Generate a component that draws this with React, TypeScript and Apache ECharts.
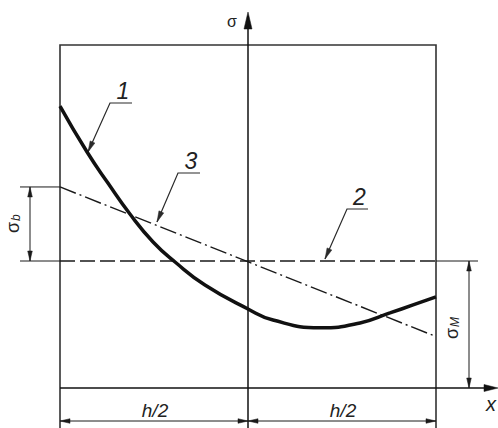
import { useEffect, useRef } from "react";
import * as echarts from "echarts";

// Curve 1: actual stress distribution (x in units of h/2, sigma in units of sigma_M)
const CURVE_X = [-1.0, -0.856, -0.745, -0.628, -0.505, -0.388, -0.229, 0, 0.133, 0.383, 0.596, 0.755, 0.878, 1.0];
const CURVE_SIGMA = [2.22, 1.858, 1.614, 1.37, 1.15, 0.992, 0.811, 0.622, 0.535, 0.474, 0.512, 0.591, 0.654, 0.717];
// Line 2: membrane stress sigma_M
const SIGMA_M = 1.0;
const MEAN_X = [-1, 1];
const MEAN_SIGMA = [SIGMA_M, SIGMA_M];
// Line 3: membrane + bending (linearised)
const SIGMA_B = 0.583;
const LINEAR_X = [-1, 1];
const LINEAR_SIGMA = [1.583, 0.405];
// Labels
const CURVE_LABELS = ["1", "2", "3"];
const HALF_LABEL = "h/2";
const AXIS_X_LABEL = "x";
const AXIS_Y_LABEL = "σ";

const FONT = "'Liberation Sans', Arial, sans-serif";
const INK = "#1a1a1a";

function arrowHead(tip: number[], from: number[], len: number, hw: number, color = INK) {
  const dx = tip[0] - from[0];
  const dy = tip[1] - from[1];
  const d = Math.hypot(dx, dy) || 1;
  const ux = dx / d, uy = dy / d;
  const bx = tip[0] - ux * len, by = tip[1] - uy * len;
  const px = -uy, py = ux;
  return {
    type: "polygon",
    silent: true,
    shape: { points: [tip, [bx + px * hw, by + py * hw], [bx - px * hw, by - py * hw]] },
    style: { fill: color, stroke: color, lineWidth: 0.5 },
  };
}

function seg(a: number[], b: number[], w = 1, color = INK) {
  return {
    type: "line",
    silent: true,
    shape: { x1: a[0], y1: a[1], x2: b[0], y2: b[1] },
    style: { stroke: color, lineWidth: w },
  };
}

function dimLine(a: number[], b: number[]) {
  return [seg(a, b, 1), arrowHead(a, b, 10, 2.3), arrowHead(b, a, 10, 2.3)];
}

function leader(label: string, under: number[], uEnd: number[], tip: number[]) {
  return [
    {
      type: "polyline",
      silent: true,
      shape: { points: [uEnd, under, tip] },
      style: { stroke: "#2a2a2a", lineWidth: 1.2, fill: null },
    },
    arrowHead(tip, under, 11, 2.6, "#2a2a2a"),
    {
      type: "text",
      silent: true,
      x: (under[0] + uEnd[0]) / 2 + 2,
      y: under[1] - 1,
      style: {
        text: label,
        fontFamily: FONT,
        fontStyle: "italic",
        fontSize: 23,
        fill: "#222",
        align: "center",
        verticalAlign: "bottom",
      },
    },
  ];
}

function subLabel(cx: number, cy: number, main: string, sub: string) {
  return {
    type: "group",
    x: cx,
    y: cy,
    rotation: Math.PI / 2,
    silent: true,
    children: [
      {
        type: "text",
        x: 0,
        y: 0,
        style: { text: main, fontFamily: FONT, fontSize: 18, fill: "#222", align: "right", verticalAlign: "middle" },
      },
      {
        type: "text",
        x: 1,
        y: 3,
        style: { text: sub, fontFamily: FONT, fontStyle: "italic", fontSize: 12, fill: "#222", align: "left", verticalAlign: "middle" },
      },
    ],
  };
}

export default function App() {
  const ref = useRef<HTMLDivElement>(null);

  useEffect(() => {
    if (!ref.current) return;
    const chart = echarts.init(ref.current, undefined, { renderer: "svg" });
    chart.setOption({
      animation: false,
      backgroundColor: "#ffffff",
      grid: { left: 0, right: 0, top: 0, bottom: 0, containLabel: false },
      xAxis: { type: "value", min: -248 / 188, max: 250 / 188, show: false },
      yAxis: { type: "value", min: -40 / 127, max: 388 / 127, show: false },
      series: [
        {
          name: "1",
          type: "line",
          data: CURVE_X.map((x, i) => [x, CURVE_SIGMA[i]]),
          smooth: 0.5,
          showSymbol: false,
          silent: true,
          lineStyle: { color: "#111", width: 3.5 },
          z: 5,
        },
        {
          name: "2",
          type: "line",
          data: MEAN_X.map((x, i) => [x, MEAN_SIGMA[i]]),
          showSymbol: false,
          silent: true,
          lineStyle: { color: INK, width: 1.5, type: [15, 5] },
          z: 3,
        },
        {
          name: "3",
          type: "line",
          data: LINEAR_X.map((x, i) => [x, LINEAR_SIGMA[i]]),
          showSymbol: false,
          silent: true,
          lineStyle: { color: INK, width: 1.4, type: [17, 4, 2, 4] },
          z: 3,
        },
      ],
    });

    const P = (x: number, y: number) => chart.convertToPixel({ gridIndex: 0 }, [x, y]) as number[];
    const L = P(-1, 0)[0];
    const R = P(1, 0)[0];
    const C = P(0, 0)[0];
    const Y0 = P(0, 0)[1];
    const YM = P(0, SIGMA_M)[1];
    const YB = P(0, SIGMA_M + SIGMA_B)[1];
    const TOP = 45;
    const BOT = 428;
    const DIM_Y = 421;

    const g: any[] = [];
    // frame
    g.push({
      type: "polyline",
      silent: true,
      shape: { points: [[L, BOT], [L, TOP], [R, TOP], [R, BOT]] },
      style: { stroke: "#333", lineWidth: 1.6, fill: null },
    });
    // sigma axis
    g.push(seg([C, BOT], [C, 20], 1.5, "#111"));
    g.push(arrowHead([C, 12], [C, 40], 17, 4, "#111"));
    // x axis
    g.push(seg([L, Y0], [490, Y0], 1.5, "#111"));
    g.push(arrowHead([498, Y0], [470, Y0], 14, 3.5, "#111"));
    // sigma_b dimension
    g.push(seg([20, YB], [L, YB], 1));
    g.push(seg([20, YM], [L, YM], 1));
    g.push(...dimLine([30, YB], [30, YM]));
    // sigma_M dimension
    g.push(seg([R, YM], [478, YM], 1));
    g.push(...dimLine([469, YM], [469, Y0]));
    // h/2 dimensions
    g.push(...dimLine([L, DIM_Y], [C, DIM_Y]));
    g.push(...dimLine([C, DIM_Y], [R, DIM_Y]));
    // leaders
    g.push(...leader(CURVE_LABELS[0], [110, 103], [132, 103], [88, 152]));
    g.push(...leader(CURVE_LABELS[2], [178, 173], [200, 173], [157, 222]));
    g.push(...leader(CURVE_LABELS[1], [347, 209], [368, 209], [325, 259]));
    // texts
    g.push({
      type: "text",
      silent: true,
      x: 232,
      y: 21,
      style: { text: AXIS_Y_LABEL, fontFamily: FONT, fontSize: 16, fill: "#222", align: "center", verticalAlign: "middle" },
    });
    g.push({
      type: "text",
      silent: true,
      x: 491,
      y: 404,
      style: { text: AXIS_X_LABEL, fontFamily: FONT, fontStyle: "italic", fontSize: 20, fill: "#222", align: "center", verticalAlign: "middle" },
    });
    g.push({
      type: "text",
      silent: true,
      x: (L + C) / 2 + 1,
      y: 410,
      style: { text: HALF_LABEL, fontFamily: FONT, fontStyle: "italic", fontSize: 19, fill: "#222", align: "center", verticalAlign: "middle" },
    });
    g.push({
      type: "text",
      silent: true,
      x: (C + R) / 2 + 1,
      y: 410,
      style: { text: HALF_LABEL, fontFamily: FONT, fontStyle: "italic", fontSize: 19, fill: "#222", align: "center", verticalAlign: "middle" },
    });
    g.push(subLabel(13, 222, "σ", "b"));
    g.push(subLabel(452, 328, "σ", "M"));

    chart.setOption({ graphic: g });

    return () => chart.dispose();
  }, []);

  return (
    <div
      ref={ref}
      style={{ position: "fixed", left: 0, top: 0, width: 498, height: 428, background: "#fff" }}
    />
  );
}
